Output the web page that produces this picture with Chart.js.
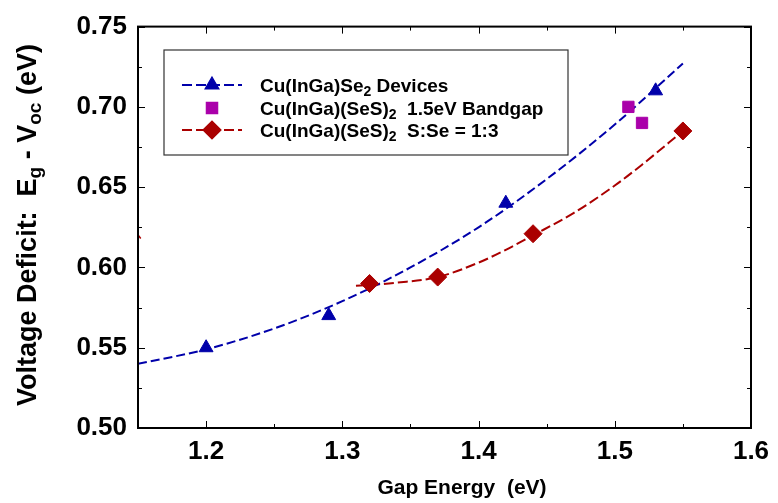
<!DOCTYPE html>
<html>
<head>
<meta charset="utf-8">
<script src="https://cdn.jsdelivr.net/npm/chart.js@4.4.1/dist/chart.umd.min.js"></script>
<style>
html, body { margin: 0; padding: 0; background: #fff; }
</style>
</head>
<body>
<canvas id="myChart" width="778" height="503"></canvas>
<script>
// measured points
const cigsGap = [1.20, 1.29, 1.42, 1.53];
const cigsDeficit = [0.550, 0.570, 0.640, 0.710];

const bandgapGap = [1.51, 1.52];
const bandgapDeficit = [0.700, 0.690];

const sseGap = [1.32, 1.37, 1.44, 1.55];
const sseDeficit = [0.590, 0.594, 0.621, 0.685];

// fitted curves
const cigsFitGap = [1.15, 1.20, 1.25, 1.30, 1.35, 1.40, 1.45, 1.50, 1.55];
const cigsFitDeficit = [0.540, 0.549, 0.562, 0.579, 0.600, 0.625, 0.655, 0.689, 0.727];

const sseFitGap = [1.31, 1.32, 1.34, 1.37, 1.40, 1.42, 1.44, 1.47, 1.50, 1.52, 1.55];
const sseFitDeficit = [0.5886, 0.589, 0.5905, 0.594, 0.603, 0.611, 0.620, 0.634, 0.651, 0.664, 0.685];

// little red stub at the left axis
const sseStubGap = [1.148, 1.152];
const sseStubDeficit = [0.6225, 0.618];

const xTicks = [1.2, 1.3, 1.4, 1.5, 1.6];
const xMinorTicks = [1.25, 1.35, 1.45, 1.55];
const yTicks = [0.50, 0.55, 0.60, 0.65, 0.70, 0.75];
const yMinorTicks = [0.525, 0.575, 0.625, 0.675, 0.725];

const legendLabels = [
    [['Cu(InGa)Se', 0], ['2', 1], [' Devices', 0]],
    [['Cu(InGa)(SeS)', 0], ['2', 1], ['  1.5eV Bandgap', 0]],
    [['Cu(InGa)(SeS)', 0], ['2', 1], ['  S:Se = 1:3', 0]]
];
const xTitle = [['Gap Energy  (eV)', 0]];
const yTitle = [['Voltage Deficit:  E', 0], ['g', 1], [' - V', 0], ['oc', 1], [' (eV)', 0]];

const BLUE = '#0000aa';
const RED = '#aa0000';
const MAGENTA = '#aa00aa';
const FONT = "'Liberation Sans', Arial, Helvetica, sans-serif";

function pts(xs, ys) {
    return xs.map((x, i) => ({ x: x, y: ys[i] }));
}

function drawRich(ctx, parts, x, y, size, center) {
    let total = 0;
    const widths = [];
    for (const p of parts) {
        ctx.font = 'bold ' + (p[1] ? Math.round(size * 0.72) : size) + 'px ' + FONT;
        const w = ctx.measureText(p[0]).width;
        widths.push(w);
        total += w;
    }
    let cx = center ? x - total / 2 : x;
    parts.forEach((p, i) => {
        ctx.font = 'bold ' + (p[1] ? Math.round(size * 0.72) : size) + 'px ' + FONT;
        ctx.fillText(p[0], cx, y + (p[1] ? size * 0.2 : 0));
        cx += widths[i];
    });
}

const decorations = {
    id: 'decorations',
    afterDraw(chart) {
        const ctx = chart.ctx;
        const a = chart.chartArea;
        const xs = chart.scales.x;
        const ys = chart.scales.y;
        ctx.save();

        // frame
        ctx.strokeStyle = '#000';
        ctx.lineWidth = 2;
        ctx.strokeRect(a.left, a.top, a.right - a.left, a.bottom - a.top);

        // inner ticks on all four sides
        ctx.lineWidth = 1;
        ctx.beginPath();
        const tickX = (v, len) => {
            const px = Math.round(xs.getPixelForValue(v)) + 0.5;
            ctx.moveTo(px, a.bottom); ctx.lineTo(px, a.bottom - len);
            ctx.moveTo(px, a.top); ctx.lineTo(px, a.top + len);
        };
        const tickY = (v, len) => {
            const py = Math.round(ys.getPixelForValue(v)) + 0.5;
            ctx.moveTo(a.left, py); ctx.lineTo(a.left + len, py);
            ctx.moveTo(a.right, py); ctx.lineTo(a.right - len, py);
        };
        xTicks.forEach(v => tickX(v, 7));
        xMinorTicks.forEach(v => tickX(v, 4));
        yTicks.forEach(v => tickY(v, 7));
        yMinorTicks.forEach(v => tickY(v, 4));
        ctx.stroke();

        // axis titles
        ctx.fillStyle = '#000';
        ctx.textBaseline = 'alphabetic';
        ctx.textAlign = 'left';
        drawRich(ctx, xTitle, 462, 494, 21, true);
        ctx.save();
        ctx.translate(36, 225);
        ctx.rotate(-Math.PI / 2);
        drawRich(ctx, yTitle, 0, 0, 27, true);
        ctx.restore();

        // legend box
        ctx.strokeStyle = '#333';
        ctx.lineWidth = 1.2;
        ctx.strokeRect(164, 50, 404, 105);

        const rows = [
            { y: 85, color: BLUE, style: 'triangle', radius: 8, line: true },
            { y: 108, color: MAGENTA, style: 'rect', radius: 8, line: false },
            { y: 130, color: RED, style: 'rectRot', radius: 9, line: true }
        ];
        rows.forEach((r, i) => {
            if (r.line) {
                ctx.save();
                ctx.strokeStyle = r.color;
                ctx.lineWidth = 2;
                ctx.setLineDash([10, 4]);
                ctx.beginPath();
                ctx.moveTo(182, r.y);
                ctx.lineTo(242, r.y);
                ctx.stroke();
                ctx.restore();
            }
            ctx.fillStyle = r.color;
            ctx.strokeStyle = r.color;
            Chart.helpers.drawPoint(ctx, { pointStyle: r.style, radius: r.radius, rotation: 0, borderWidth: 1 }, 212, r.y);
            ctx.fillStyle = '#000';
            drawRich(ctx, legendLabels[i], 260, r.y + 7, 19, false);
        });
        ctx.restore();
    }
};

const ctx = document.getElementById('myChart').getContext('2d');

const myChart = new Chart(ctx, {
    type: 'scatter',
    data: {
        datasets: [
            {
                label: 'Cu(InGa)Se2 Devices',
                data: pts(cigsGap, cigsDeficit),
                pointStyle: 'triangle',
                pointRadius: 8,
                backgroundColor: BLUE,
                borderColor: BLUE,
                borderWidth: 1,
                order: 1
            },
            {
                label: 'Cu(InGa)(SeS)2 1.5eV Bandgap',
                data: pts(bandgapGap, bandgapDeficit),
                pointStyle: 'rect',
                pointRadius: 8,
                backgroundColor: MAGENTA,
                borderColor: MAGENTA,
                borderWidth: 1,
                order: 1
            },
            {
                label: 'Cu(InGa)(SeS)2 S:Se = 1:3',
                data: pts(sseGap, sseDeficit),
                pointStyle: 'rectRot',
                pointRadius: 9,
                backgroundColor: RED,
                borderColor: RED,
                borderWidth: 1,
                order: 1
            },
            {
                label: 'CIGS fit',
                data: pts(cigsFitGap, cigsFitDeficit),
                showLine: true,
                pointRadius: 0,
                borderColor: BLUE,
                borderWidth: 2,
                borderDash: [9, 4],
                cubicInterpolationMode: 'monotone',
                order: 2
            },
            {
                label: 'S:Se fit',
                data: pts(sseFitGap, sseFitDeficit),
                showLine: true,
                pointRadius: 0,
                borderColor: RED,
                borderWidth: 2,
                borderDash: [10, 4],
                cubicInterpolationMode: 'monotone',
                order: 2
            },
            {
                label: 'stub',
                data: pts(sseStubGap, sseStubDeficit),
                showLine: true,
                pointRadius: 0,
                borderColor: RED,
                borderWidth: 1.5,
                order: 2
            }
        ]
    },
    options: {
        responsive: false,
        animation: false,
        devicePixelRatio: 1,
        layout: { padding: { top: 21, right: 27, left: 0, bottom: 0 } },
        plugins: {
            legend: { display: false },
            tooltip: { enabled: false }
        },
        scales: {
            x: {
                type: 'linear',
                min: 1.15,
                max: 1.6,
                grid: { display: false, drawTicks: false },
                border: { display: false },
                afterBuildTicks: s => { s.ticks = xTicks.map(v => ({ value: v })); },
                afterFit: s => { s.height = 75; },
                ticks: {
                    padding: 8,
                    color: '#000',
                    font: { family: FONT, size: 26, weight: 'bold' },
                    callback: v => v.toFixed(1)
                }
            },
            y: {
                type: 'linear',
                min: 0.5,
                max: 0.75,
                grid: { display: false, drawTicks: false },
                border: { display: false },
                afterBuildTicks: s => { s.ticks = yTicks.map(v => ({ value: v })); },
                afterFit: s => { s.width = 138; },
                ticks: {
                    padding: 11,
                    color: '#000',
                    font: { family: FONT, size: 26, weight: 'bold' },
                    callback: v => v.toFixed(2)
                }
            }
        }
    },
    plugins: [decorations]
});
</script>
</body>
</html>
